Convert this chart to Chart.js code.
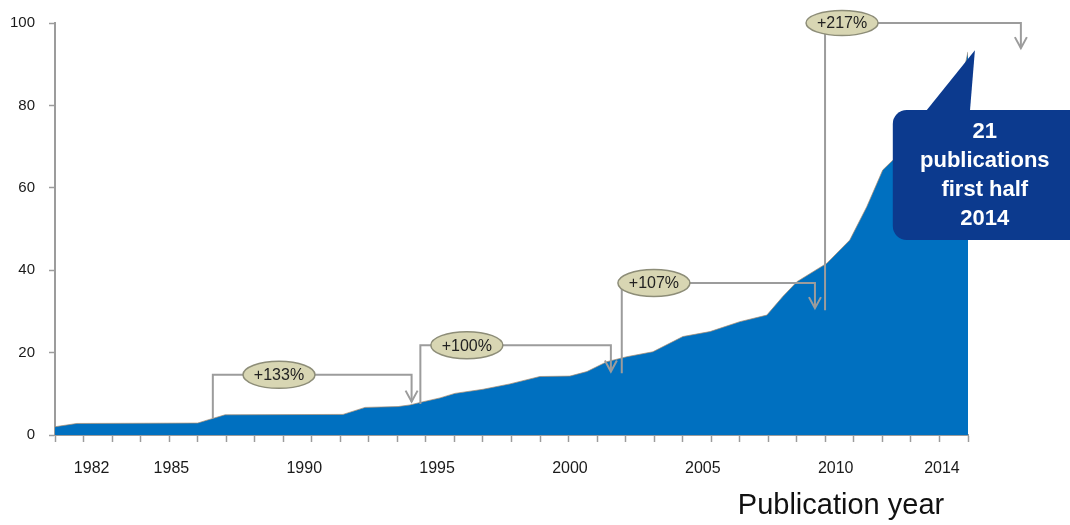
<!DOCTYPE html>
<html>
<head>
<meta charset="utf-8">
<script src="https://cdn.jsdelivr.net/npm/chart.js@4.4.1/dist/chart.umd.min.js"></script>
<style>
    html, body { margin: 0; padding: 0; background: #fff; }
</style>
</head>
<body>
<canvas id="pubChart" width="1070" height="525"></canvas>
<script>
// Cumulative publications
const years = [1980.62, 1981.44, 1985.99, 1986.34, 1987.02, 1991.46, 1992.29, 1993.53, 1993.98, 1994.36,
    1995.11, 1995.67, 1996.73, 1997.74, 1998.87, 2000.0, 2000.64, 2001.39, 2002.14, 2003.12,
    2004.25, 2005.27, 2006.39, 2007.41, 2008.01, 2008.54, 2009.67, 2010.53, 2011.17, 2011.77,
    2012.15, 2012.8, 2013.5, 2014.3, 2014.98];
const publications = [2.0, 2.8, 2.9, 3.6, 4.9, 5.0, 6.7, 6.9, 7.3, 7.9,
    9.0, 10.1, 11.1, 12.4, 14.2, 14.3, 15.4, 17.8, 19.0, 20.2,
    23.9, 25.1, 27.5, 29.1, 33.6, 37.2, 41.7, 47.3, 55.4, 64.3,
    66.7, 69, 71, 73, 93];

const yearLabels = [1982, 1985, 1990, 1995, 2000, 2005, 2010, 2014];
const growthLabels = ['+133%', '+100%', '+107%', '+217%'];
const calloutLines = ['21', 'publications', 'first half', '2014'];

const xMin = 1980.62, xMax = 2014.98, tickCount = 32;

// bracket geometry (in axis units)
const brackets = [
    { from: 1986.56, to: 1994.04, level: 14.6, base: 4.1, tip: 8.1, labelAt: 1989.05, ry: 13.5 },
    { from: 1994.37, to: 2001.54, level: 21.8, base: 7.5, tip: 15.4, labelAt: 1996.12, ry: 13.5 },
    { from: 2001.95, to: 2009.22, level: 36.9, base: 15.0, tip: 30.8, labelAt: 2003.16, ry: 13.5 },
    { from: 2009.6, to: 2016.97, level: 100.0, base: 30.3, tip: 93.9, labelAt: 2010.24, ry: 12.5 }
];

const notesPlugin = {
    id: 'notes',
    afterDatasetsDraw(chart) {
        const { ctx, scales: { x, y } } = chart;
        ctx.save();

        // growth brackets
        brackets.forEach((b, i) => {
            const x0 = x.getPixelForValue(b.from);
            const x1 = x.getPixelForValue(b.to);
            const yl = y.getPixelForValue(b.level);
            const yb = y.getPixelForValue(b.base);
            const yt = y.getPixelForValue(b.tip);
            ctx.strokeStyle = '#9c9c9c';
            ctx.lineWidth = 2;
            ctx.beginPath();
            ctx.moveTo(x0, yb);
            ctx.lineTo(x0, yl);
            ctx.lineTo(x1, yl);
            ctx.lineTo(x1, yt);
            ctx.stroke();
            ctx.beginPath();
            ctx.moveTo(x1 - 6, yt - 11);
            ctx.lineTo(x1, yt);
            ctx.lineTo(x1 + 6, yt - 11);
            ctx.stroke();

            const cx = x.getPixelForValue(b.labelAt);
            ctx.beginPath();
            ctx.ellipse(cx, yl, 36, b.ry, 0, 0, Math.PI * 2);
            ctx.fillStyle = '#d8d6b3';
            ctx.fill();
            ctx.strokeStyle = '#8d8d78';
            ctx.lineWidth = 1.5;
            ctx.stroke();
            ctx.fillStyle = '#222';
            ctx.font = '16px "Liberation Sans", Arial, sans-serif';
            ctx.textAlign = 'center';
            ctx.textBaseline = 'middle';
            ctx.fillText(growthLabels[i], cx, yl + 1);
        });

        // callout box
        const bx0 = x.getPixelForValue(2012.15);
        const by0 = y.getPixelForValue(78.9);
        const by1 = y.getPixelForValue(47.3);
        const bx1 = chart.width + 20;
        ctx.fillStyle = '#0c3a8e';
        ctx.beginPath();
        ctx.roundRect(bx0, by0, bx1 - bx0, by1 - by0, 14);
        ctx.fill();
        ctx.beginPath();
        ctx.moveTo(x.getPixelForValue(2013.37), by0 + 2);
        ctx.lineTo(x.getPixelForValue(2015.24), y.getPixelForValue(93.4));
        ctx.lineTo(x.getPixelForValue(2015.05), by0 + 2);
        ctx.closePath();
        ctx.fill();

        ctx.fillStyle = '#fff';
        ctx.font = 'bold 22px "Liberation Sans", Arial, sans-serif';
        ctx.textAlign = 'center';
        ctx.textBaseline = 'middle';
        calloutLines.forEach((t, i) => {
            ctx.fillText(t, bx0 + 92, by0 + 22 + i * 29);
        });

        // axis title
        ctx.fillStyle = '#111';
        ctx.font = '29px "Liberation Sans", Arial, sans-serif';
        ctx.textAlign = 'center';
        ctx.textBaseline = 'alphabetic';
        ctx.fillText('Publication year', x.right - 127, 514);

        ctx.restore();
    }
};

const ctx = document.getElementById('pubChart').getContext('2d');
const chart = new Chart(ctx, {
    type: 'line',
    data: {
        datasets: [{
            data: years.map((yr, i) => ({ x: yr, y: publications[i] })),
            backgroundColor: '#0070c0',
            borderColor: 'rgba(170,140,110,0.7)',
            borderWidth: 1,
            fill: 'origin',
            pointRadius: 0,
            tension: 0
        }]
    },
    options: {
        responsive: false,
        animation: false,
        layout: { padding: { top: 23, right: 102, bottom: 0, left: 0 } },
        plugins: { legend: { display: false }, tooltip: { enabled: false } },
        scales: {
            x: {
                type: 'linear',
                min: xMin,
                max: xMax,
                afterBuildTicks: (scale) => {
                    const ticks = [];
                    for (let k = 0; k <= tickCount; k++) {
                        ticks.push({ value: xMin + k * (xMax - xMin) / tickCount });
                    }
                    yearLabels.forEach(v => ticks.push({ value: v }));
                    ticks.sort((a, b) => a.value - b.value);
                    scale.ticks = ticks;
                },
                afterFit: (scale) => { scale.height = 90; },
                border: { color: '#9c9c9c', width: 2 },
                grid: {
                    drawOnChartArea: false,
                    tickLength: 7,
                    tickWidth: 1.5,
                    tickColor: (c) => yearLabels.includes(c.tick && c.tick.value) ? 'rgba(0,0,0,0)' : '#9c9c9c'
                },
                ticks: {
                    autoSkip: false,
                    maxRotation: 0,
                    padding: 17,
                    color: '#1a1a1a',
                    font: { family: '"Liberation Sans", Arial, sans-serif', size: 16 },
                    callback: (v) => yearLabels.includes(v) ? String(v) : ''
                }
            },
            y: {
                min: 0,
                max: 100,
                afterFit: (scale) => { scale.width = 55; },
                border: { color: '#9c9c9c', width: 2 },
                grid: { drawOnChartArea: false, tickLength: 6, tickWidth: 1.5, tickColor: '#9c9c9c' },
                ticks: {
                    stepSize: 20,
                    padding: 14,
                    color: '#1a1a1a',
                    font: { family: '"Liberation Sans", Arial, sans-serif', size: 15 }
                }
            }
        }
    },
    plugins: [notesPlugin]
});
</script>
</body>
</html>
